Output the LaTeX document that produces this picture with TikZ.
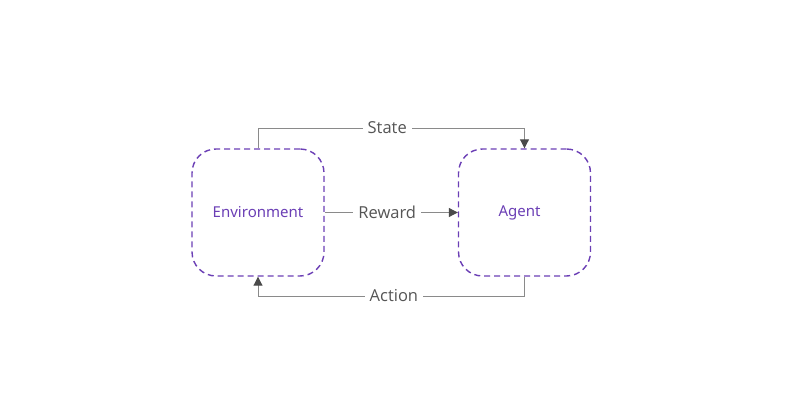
\documentclass[tikz,border=0pt]{standalone}
\usepackage{fontspec}
\setmainfont{Open Sans}
\newfontfamily\nodefont{Noto Sans}
\usetikzlibrary{arrows.meta}
\definecolor{boxpurple}{HTML}{6B3FB5}
\definecolor{linegray}{HTML}{8A8A8A}
\definecolor{labelgray}{HTML}{555555}
\definecolor{tipgray}{HTML}{4A4A4A}
\tikzset{
  agentbox/.style={draw=boxpurple, line width=1.4pt, dash pattern=on 6pt off 4pt, rounded corners=24pt,
    minimum width=132pt, minimum height=127pt, inner sep=0pt, text=boxpurple, font=\nodefont\fontsize{15}{18}\selectfont},
  conn/.style={draw=linegray, line width=1pt, -{Triangle[length=9pt,width=9pt,fill=tipgray,color=tipgray]}},
  lab/.style={fill=white, text=labelgray, inner xsep=5pt, inner ysep=3pt, font=\fontsize{16.5}{19}\selectfont}
}
\begin{document}
\begin{tikzpicture}[x=1pt,y=-1pt]
\useasboundingbox (0,0) rectangle (800,420);
\node[agentbox] (env) at (258,212.5) {Environment};
\node[agentbox, text width=120pt, align=center] (agent) at (524.5,212.5) {\hspace*{-10pt}Agent};
\coordinate (s1) at (258,128);
\coordinate (s2) at (524.5,128);
\coordinate (a1) at (524.5,296);
\coordinate (a2) at (258,296);
\draw[conn] (env.north) -- (s1) -- node[lab, pos=0.485] {State} (s2) -- (agent.north);
\draw[conn] (env.east) -- node[lab, pos=0.47] {Reward} (agent.west);
\draw[conn] (agent.south) -- (a1) -- node[lab, pos=0.49] {Action} (a2) -- (env.south);
\end{tikzpicture}
\end{document}
